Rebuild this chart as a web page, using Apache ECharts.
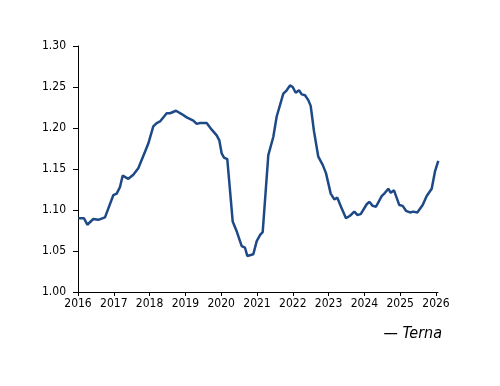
<!DOCTYPE html>
<html><head><meta charset="utf-8">
<script src="https://cdn.jsdelivr.net/npm/echarts@6/dist/echarts.min.js"></script>
<style>html,body{margin:0;padding:0;background:#fff}#c{width:500px;height:386px}</style>
</head><body><div id="c"></div>
<script>
const seriesName = 'Terna';
const years = [2016.008,2016.168,2016.260,2016.427,2016.567,2016.754,2016.986,2017.081,2017.173,2017.249,2017.405,2017.545,2017.684,2017.872,2017.964,2018.103,2018.198,2018.291,2018.478,2018.570,2018.737,2018.897,2019.036,2019.221,2019.316,2019.408,2019.595,2019.735,2019.874,2019.947,2020.014,2020.078,2020.170,2020.246,2020.321,2020.433,2020.573,2020.665,2020.729,2020.897,2020.992,2021.092,2021.159,2021.316,2021.455,2021.550,2021.735,2021.830,2021.922,2021.997,2022.081,2022.173,2022.249,2022.341,2022.433,2022.500,2022.592,2022.712,2022.835,2022.927,2023.059,2023.159,2023.243,2023.346,2023.486,2023.598,2023.718,2023.802,2023.897,2024.064,2024.137,2024.232,2024.324,2024.483,2024.575,2024.668,2024.735,2024.827,2024.975,2025.070,2025.162,2025.274,2025.366,2025.478,2025.628,2025.740,2025.880,2025.972,2026.064];
const values = [1.090,1.090,1.082,1.089,1.088,1.091,1.118,1.120,1.128,1.142,1.138,1.143,1.151,1.171,1.181,1.202,1.206,1.208,1.218,1.218,1.221,1.217,1.213,1.209,1.205,1.206,1.206,1.198,1.191,1.185,1.169,1.164,1.162,1.124,1.086,1.074,1.056,1.054,1.044,1.046,1.062,1.070,1.073,1.167,1.189,1.214,1.242,1.246,1.252,1.250,1.243,1.246,1.241,1.240,1.234,1.227,1.196,1.165,1.155,1.145,1.120,1.113,1.115,1.104,1.090,1.093,1.098,1.094,1.095,1.107,1.110,1.105,1.104,1.117,1.121,1.126,1.121,1.124,1.106,1.105,1.099,1.097,1.098,1.097,1.106,1.117,1.126,1.147,1.160];
const yTicks = ['1.00','1.05','1.10','1.15','1.20','1.25','1.30'];

const chart = echarts.init(document.getElementById('c'), null, {renderer:'canvas'});
const font = '"DejaVu Sans Condensed", "DejaVu Sans", sans-serif';
chart.setOption({
  animation:false,
  grid:{left:78,right:62,top:46,bottom:94,containLabel:false},
  legend:{data:[seriesName],icon:'none',right:53,top:321,itemGap:0,
    formatter:'— {name}',
    textStyle:{fontFamily:font,fontStyle:'italic',fontSize:16,color:'#000'}},
  xAxis:{type:'value',min:2016,max:2026.056,interval:1,
    axisLine:{lineStyle:{color:'#000',width:1}},
    axisTick:{show:true,length:4,lineStyle:{color:'#000'}},
    axisLabel:{fontFamily:font,fontSize:12,color:'#000',margin:6,
      formatter:v=>String(Math.round(v)),showMaxLabel:false},
    splitLine:{show:false}},
  yAxis:{type:'value',min:1,max:1.3,interval:0.05,
    axisLine:{show:true,lineStyle:{color:'#000',width:1}},
    axisTick:{show:true,length:5,lineStyle:{color:'#000'}},
    axisLabel:{fontFamily:font,fontSize:12,color:'#000',margin:12,
      formatter:v=>yTicks[Math.round((v-1)/0.05)]},
    splitLine:{show:false}},
  series:[{name:seriesName,type:'line',showSymbol:false,
    data:years.map((y,i)=>[y,values[i]]),
    lineStyle:{color:'#1d4a87',width:2.5},itemStyle:{color:'#1d4a87'}}]
});
</script></body></html>
